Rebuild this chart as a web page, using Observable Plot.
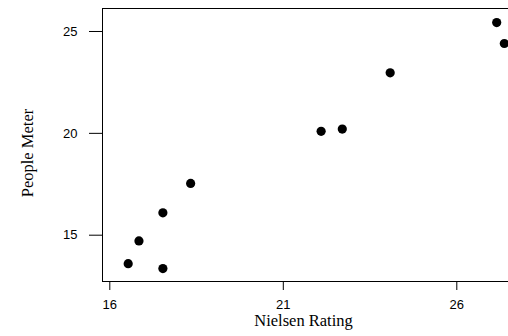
<!DOCTYPE html>
<html>
<head>
<meta charset="utf-8">
<script src="https://cdn.jsdelivr.net/npm/d3@7"></script>
<script src="https://cdn.jsdelivr.net/npm/@observablehq/plot@0.6"></script>
<style>
  html, body { margin: 0; padding: 0; background: #fff; overflow: hidden; width: 508px; height: 336px; }
  #chart { width: 508px; height: 336px; overflow: hidden; }
  #chart svg { display: block; max-width: none !important; width: 540px !important; height: 336px !important; }
</style>
</head>
<body>
<div id="chart"></div>
<script>
const nielsen = [16.53, 16.84, 17.53, 17.53, 18.33, 22.09, 22.70, 24.08, 27.15, 27.37];
const people  = [13.60, 14.72, 16.10, 13.36, 17.54, 20.10, 20.21, 22.97, 25.44, 24.41];
const xTicks = [16, 21, 26];
const yTicks = [15, 20, 25];
const xLabel = "Nielsen Rating";
const yLabel = "People Meter";

const data = nielsen.map((x, i) => ({x, y: people[i]}));

const sans = "'Liberation Sans', Arial, sans-serif";
const serif = "'Liberation Serif', 'Times New Roman', serif";

const chart = Plot.plot({
  width: 540,
  height: 336,
  marginLeft: 102,
  marginRight: 0,
  marginTop: 8,
  marginBottom: 55,
  style: {fontFamily: sans, fontSize: "13px", color: "#000", background: "#fff"},
  x: {domain: [15.7896, 28.412]},
  y: {domain: [12.727, 26.129]},
  marks: [
    Plot.frame({stroke: "#000", strokeWidth: 1}),
    Plot.axisX(xTicks, {tickSize: 9, tickPadding: 9, label: null, fontSize: 13, fontFamily: sans, fill: "#000", stroke: "#000"}),
    Plot.axisY(yTicks, {tickSize: 13, tickPadding: 12, label: null, fontSize: 13, fontFamily: sans, fill: "#000", stroke: "#000"}),
    Plot.dot(data, {x: "x", y: "y", r: 4.6, fill: "#000", stroke: null}),
    Plot.text([xLabel], {frameAnchor: "bottom", textAnchor: "middle", lineAnchor: "middle", dx: -18, dy: 39.5, fontFamily: serif, fontSize: 16.5, fill: "#000"}),
    Plot.text([yLabel], {frameAnchor: "left", textAnchor: "middle", lineAnchor: "middle", rotate: -90, dx: -75, dy: 8, fontFamily: serif, fontSize: 16.5, fill: "#000"})
  ]
});
document.getElementById("chart").appendChild(chart);
</script>
</body>
</html>
